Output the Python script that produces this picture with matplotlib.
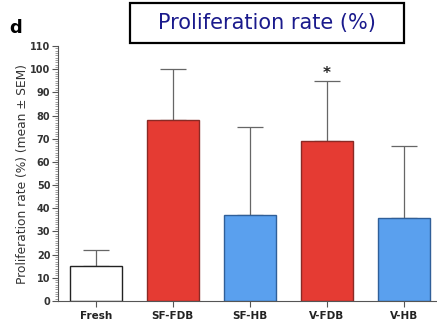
import matplotlib
matplotlib.use('Agg')
import matplotlib.pyplot as plt
from matplotlib.ticker import MultipleLocator
from matplotlib.patches import Rectangle

# values
groups = ['Fresh', 'SF-FDB', 'SF-HB', 'V-FDB', 'V-HB']
means = [15, 78, 37, 69, 36]
sem = [7, 22, 38, 26, 31]
fills = ['white', '#e53b33', '#5aa0ee', '#e53b33', '#5aa0ee']
edges = ['#222222', '#8a2a25', '#2f5f99', '#8a2a25', '#2f5f99']
star_group = 'V-FDB'

fig = plt.figure(figsize=(4.37, 3.24), dpi=100)
ax = fig.add_axes([0.1327, 0.071, 0.8673, 0.787])

x = list(range(len(groups)))
ax.bar(x, means, width=0.675, color=fills, edgecolor=edges, linewidth=1.0, zorder=2)
ax.errorbar(x, means, yerr=[[0] * len(sem), sem], fmt='none', ecolor='#666666',
            elinewidth=0.9, capsize=9.5, capthick=0.9, zorder=1)

i = groups.index(star_group)
ax.text(x[i], means[i] + sem[i] + 3, '*', ha='center', va='center',
        fontsize=11, fontweight='bold', color='#222222')

ax.set_xlim(-0.49, 4.43)
ax.set_ylim(0, 110)
ax.yaxis.set_major_locator(MultipleLocator(10))
ax.yaxis.set_minor_locator(MultipleLocator(1))
ax.set_xticks(x)
ax.set_xticklabels(groups, fontsize=7.5, fontweight='bold', color='#222222')
for lab in ax.get_yticklabels():
    lab.set_fontsize(7)
    lab.set_fontweight('bold')
    lab.set_color('#333333')
ax.tick_params(axis='y', which='major', length=4, width=0.8, pad=1.5, colors='#555555',
               labelcolor='#333333')
ax.tick_params(axis='y', which='minor', length=2, width=0.5, colors='#777777')
ax.tick_params(axis='x', length=4, width=0.8, pad=3, colors='#555555', labelcolor='#222222')
for s in ['top', 'right']:
    ax.spines[s].set_visible(False)
for s in ['left', 'bottom']:
    ax.spines[s].set_color('#555555')
    ax.spines[s].set_linewidth(0.8)

ax.set_ylabel('Proliferation rate (%) (mean \u00b1 SEM)', fontsize=8.8, color='#333333', labelpad=1)

fig.text(0.035, 0.915, 'd', fontsize=13, fontweight='bold', ha='center', va='center')

# boxed title
fig.patches.append(Rectangle((130 / 437, 1 - 43 / 324), 274 / 437, 40 / 324,
                             transform=fig.transFigure, fill=False, edgecolor='black',
                             linewidth=1.6))
fig.text(267 / 437, 1 - 23 / 324, 'Proliferation rate (%)', fontsize=15,
         color='#1a1a8c', ha='center', va='center')

fig.savefig('out.png', dpi=100)
